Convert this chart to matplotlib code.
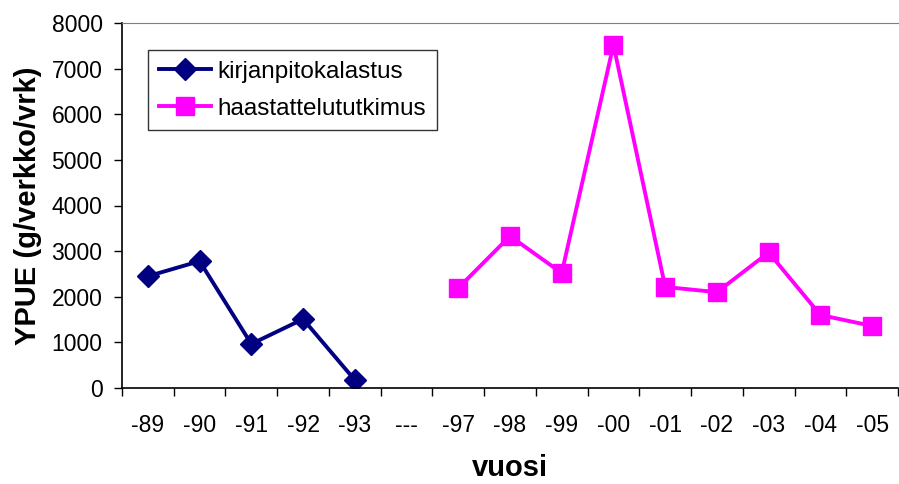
import matplotlib
matplotlib.use('Agg')
import matplotlib.pyplot as plt
import numpy as np

plt.rcParams['font.family'] = ['Liberation Sans', 'DejaVu Sans']

years = ['-89', '-90', '-91', '-92', '-93', '---', '-97', '-98', '-99',
         '-00', '-01', '-02', '-03', '-04', '-05']
kirjanpito = [2450, 2780, 965, 1510, 175]
haastattelu = [2190, 3330, 2520, 7520, 2215, 2100, 2970, 1600, 1360]

x = np.arange(len(years))

fig = plt.figure(figsize=(8.99, 4.84), dpi=100)
ax = fig.add_axes([122 / 899, 96 / 484, 776 / 899, 365 / 484])

ax.plot(x[:5], kirjanpito, color='#000080', lw=2.8, marker='D',
        markersize=11, label='kirjanpitokalastus')
ax.plot(x[6:], haastattelu, color='#FF00FF', lw=2.8, marker='s',
        markersize=13, label='haastattelututkimus')

ax.set_xlim(-0.5, len(years) - 0.5)
ax.set_ylim(0, 8000)
ax.set_yticks(range(0, 8001, 1000))
ax.set_xticks(x)
ax.set_xticklabels(years)
ax.set_xticks(np.arange(-0.5, len(years), 1), minor=True)
ax.tick_params(axis='x', which='major', length=0, pad=19, labelsize=16.5)
ax.tick_params(axis='x', which='minor', length=6, width=1, direction='out')
ax.tick_params(axis='y', length=6, width=1, direction='out', labelsize=16.5,
               pad=8)

ax.spines['right'].set_visible(False)
ax.spines['top'].set_color('#808080')
ax.spines['left'].set_linewidth(1.2)
ax.spines['bottom'].set_linewidth(1.2)

ax.set_xlabel('vuosi', fontsize=21, fontweight='bold', labelpad=12)
ax.set_ylabel('YPUE (g/verkko/vrk)', fontsize=21, fontweight='bold', labelpad=7)

leg = ax.legend(loc='upper left', bbox_to_anchor=(26 / 776, 338 / 365),
                fontsize=17.5, frameon=True, fancybox=False, borderaxespad=0,
                handlelength=2.15, handletextpad=0.25, labelspacing=0.6,
                borderpad=0.45)
leg.get_frame().set_edgecolor('black')
leg.get_frame().set_linewidth(1)

fig.savefig('out.png', dpi=100)
